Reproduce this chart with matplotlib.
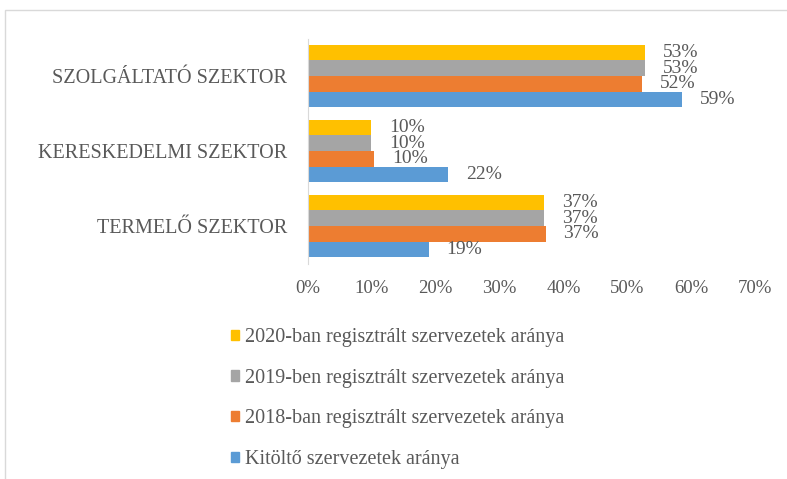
import matplotlib.pyplot as plt
from matplotlib.patches import Rectangle, Patch
import numpy as np

plt.rcParams['font.family'] = ['Liberation Serif', 'DejaVu Serif']

# --- adatok ---
szektorok = ['TERMELŐ SZEKTOR', 'KERESKEDELMI SZEKTOR', 'SZOLGÁLTATÓ SZEKTOR']
kitolto = [18.9, 22.0, 58.6]
reg_2018 = [37.2, 10.4, 52.3]
reg_2019 = [37.0, 9.9, 52.8]
reg_2020 = [37.0, 9.9, 52.8]
sorozat_nevek = ['Kitöltő szervezetek aránya',
                 '2018-ban regisztrált szervezetek aránya',
                 '2019-ben regisztrált szervezetek aránya',
                 '2020-ban regisztrált szervezetek aránya']
x_ticks = [0, 10, 20, 30, 40, 50, 60, 70]

szinek = ['#5B9BD5', '#ED7D31', '#A5A5A5', '#FFC000']
szoveg_szin = '#595959'

fig = plt.figure(figsize=(7.87, 4.79), dpi=100)
ax = fig.add_axes([308 / 787, 1 - 263.5 / 479, 447 / 787, 225 / 479])

# keret a diagram korul
fig.add_artist(Rectangle((5 / 787, -0.1), 1.2, 1 - 10 / 479 + 0.1,
                         transform=fig.transFigure, fill=False,
                         edgecolor='#d9d9d9', linewidth=1))

y = np.arange(len(szektorok))
h = 0.207
adatsorok = [kitolto, reg_2018, reg_2019, reg_2020]
for i, (ertekek, szin, nev) in enumerate(zip(adatsorok, szinek, sorozat_nevek)):
    pos = y + (i - 1.5) * h
    ax.barh(pos, ertekek, height=h, color=szin, label=nev)
    for yy, v in zip(pos, ertekek):
        ax.annotate(f'{v:.0f}%', (v, yy), xytext=(18, 0), textcoords='offset pixels',
                    ha='left', va='center', fontsize=14, color=szoveg_szin)

ax.set_xlim(0, 70)
ax.set_ylim(-0.5, 2.5)
ax.set_xticks(x_ticks)
ax.set_xticklabels([f'{t}%' for t in x_ticks], fontsize=13.5, color=szoveg_szin)
ax.set_yticks(y)
ax.set_yticklabels(szektorok, fontsize=14.5, color=szoveg_szin)
ax.tick_params(length=0, pad=12)
ax.tick_params(axis='y', pad=15)
for s in ['top', 'right', 'bottom']:
    ax.spines[s].set_visible(False)
ax.spines['left'].set_color('#d9d9d9')

handles = [Patch(color=c) for c in szinek][::-1]
fig.legend(handles, sorozat_nevek[::-1], loc='upper left',
           bbox_to_anchor=(231 / 787, 1 - 328 / 479), frameon=False,
           fontsize=14.5, labelcolor=szoveg_szin, handlelength=0.4, handleheight=0.4,
           handletextpad=0.3, labelspacing=1.08, borderpad=0, borderaxespad=0)

fig.savefig('out.png', dpi=100)
